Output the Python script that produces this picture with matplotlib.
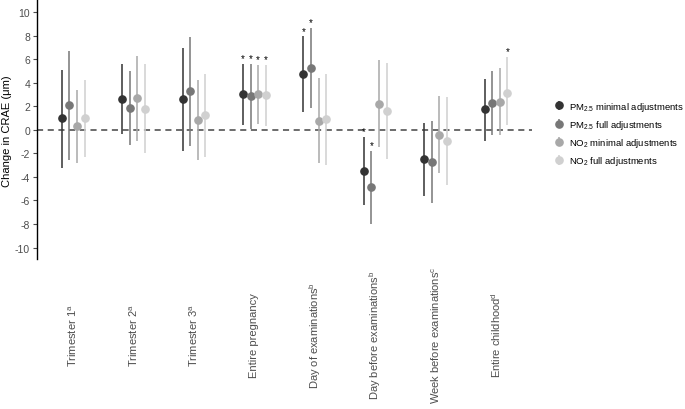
import matplotlib
matplotlib.use("Agg")

import matplotlib.pyplot as plt
import numpy as np

plt.rcParams["font.family"] = ["Liberation Sans", "DejaVu Sans"]
plt.rcParams["mathtext.fontset"] = "custom"
plt.rcParams["mathtext.rm"] = "Liberation Sans"
plt.rcParams["mathtext.it"] = "Liberation Sans:italic"
plt.rcParams["mathtext.bf"] = "Liberation Sans:bold"

periods = [
    "Trimester 1$^{\\mathregular{a}}$",
    "Trimester 2$^{\\mathregular{a}}$",
    "Trimester 3$^{\\mathregular{a}}$",
    "Entire pregnancy",
    "Day of examinations$^{\\mathregular{b}}$",
    "Day before examinations$^{\\mathregular{b}}$",
    "Week before examinations$^{\\mathregular{c}}$",
    "Entire childhood$^{\\mathregular{d}}$",
]
series_names = [
    "PM$_{\\mathregular{2.5}}$ minimal adjustments",
    "PM$_{\\mathregular{2.5}}$ full adjustments",
    "NO$_{\\mathregular{2}}$ minimal adjustments",
    "NO$_{\\mathregular{2}}$ full adjustments",
]

# estimates and 95% CI per series, one value per period
pm_min = [0.99, 2.60, 2.60, 3.03, 4.70, -3.46, -2.52, 1.73]
pm_min_lo = [-3.23, -0.34, -1.76, 0.42, 1.47, -6.37, -5.64, -0.91]
pm_min_hi = [5.10, 5.60, 6.97, 5.60, 7.93, -0.57, 0.57, 4.28]

pm_full = [2.07, 1.87, 3.26, 2.86, 5.27, -4.87, -2.72, 2.24]
pm_full_lo = [-2.55, -1.25, -1.36, 0.08, 1.87, -8.02, -6.20, -0.48]
pm_full_hi = [6.66, 5.00, 7.88, 5.60, 8.64, -1.76, 0.74, 4.96]

no2_min = [0.28, 2.66, 0.79, 3.03, 0.76, 2.21, -0.40, 2.38]
no2_min_lo = [-2.83, -0.99, -2.60, 0.51, -2.86, -1.50, -3.68, -0.48]
no2_min_hi = [3.40, 6.30, 4.19, 5.52, 4.39, 5.89, 2.86, 5.27]

no2_full = [0.99, 1.76, 1.22, 2.92, 0.88, 1.59, -0.93, 3.09]
no2_full_lo = [-2.32, -2.00, -2.27, 0.28, -2.97, -2.52, -4.70, 0.37]
no2_full_hi = [4.25, 5.55, 4.76, 5.52, 4.73, 5.69, 2.78, 6.18]

# significance flags (asterisks)
pm_min_sig = [0, 0, 0, 1, 1, 1, 0, 0]
pm_full_sig = [0, 0, 0, 1, 1, 1, 0, 0]
no2_min_sig = [0, 0, 0, 1, 0, 0, 0, 0]
no2_full_sig = [0, 0, 0, 1, 0, 0, 0, 1]

y_ticks = [-10, -8, -6, -4, -2, 0, 2, 4, 6, 8, 10]

series = [
    (pm_min, pm_min_lo, pm_min_hi, pm_min_sig),
    (pm_full, pm_full_lo, pm_full_hi, pm_full_sig),
    (no2_min, no2_min_lo, no2_min_hi, no2_min_sig),
    (no2_full, no2_full_lo, no2_full_hi, no2_full_sig),
]
colors = ["#333333", "#777777", "#a8a8a8", "#d0d0d0"]
offsets = [-0.19, -0.063, 0.063, 0.19]

fig = plt.figure(figsize=(6.85, 4.10), dpi=100)
ax = fig.add_axes([0.054, 0.365, 0.723, 0.632])

x = np.arange(1, len(periods) + 1)
for (est, lo, hi, sig), col, off, name in zip(series, colors, offsets, series_names):
    est = np.array(est)
    lo = np.array(lo)
    hi = np.array(hi)
    ax.errorbar(x + off, est, yerr=[est - lo, hi - est], fmt="o", color=col,
                ecolor=col, elinewidth=1.1, markersize=5.2, capsize=0,
                label=name, zorder=3)
    for xi, h, s in zip(x + off, hi, sig):
        if s:
            ax.text(xi, h + 0.05, "*", ha="center", va="bottom", fontsize=7,
                    color="black")

ax.axhline(0, color="#444444", linestyle=(0, (4, 3)), linewidth=1.1, zorder=1)

ax.set_xlim(0.4, 8.6)
ax.set_ylim(-11, 11)
ax.set_yticks(y_ticks)
ax.set_yticklabels([str(t) for t in y_ticks])
ax.tick_params(axis="y", labelsize=7.5, labelcolor="#4d4d4d", color="#4d4d4d",
               length=3, width=0.8, pad=2)
ax.set_xticks([])
for side in ["top", "right", "bottom"]:
    ax.spines[side].set_visible(False)
ax.spines["left"].set_linewidth(1.0)
ax.spines["left"].set_color("black")
ax.set_ylabel("Change in CRAE (μm)", fontsize=8)
ax.yaxis.set_label_coords(-0.05, 0.5)

for xi, lab in zip(x, periods):
    ax.text(xi, -0.29, lab, transform=ax.get_xaxis_transform(), rotation=90,
            ha="center", va="center", fontsize=8, color="#4d4d4d")

ax.legend(loc="center left", bbox_to_anchor=(0.795, 0.672),
          bbox_transform=fig.transFigure, frameon=False, fontsize=6.8,
          handletextpad=0.5, labelspacing=0.55, handlelength=1.2)

fig.savefig("out.png", dpi=100)
